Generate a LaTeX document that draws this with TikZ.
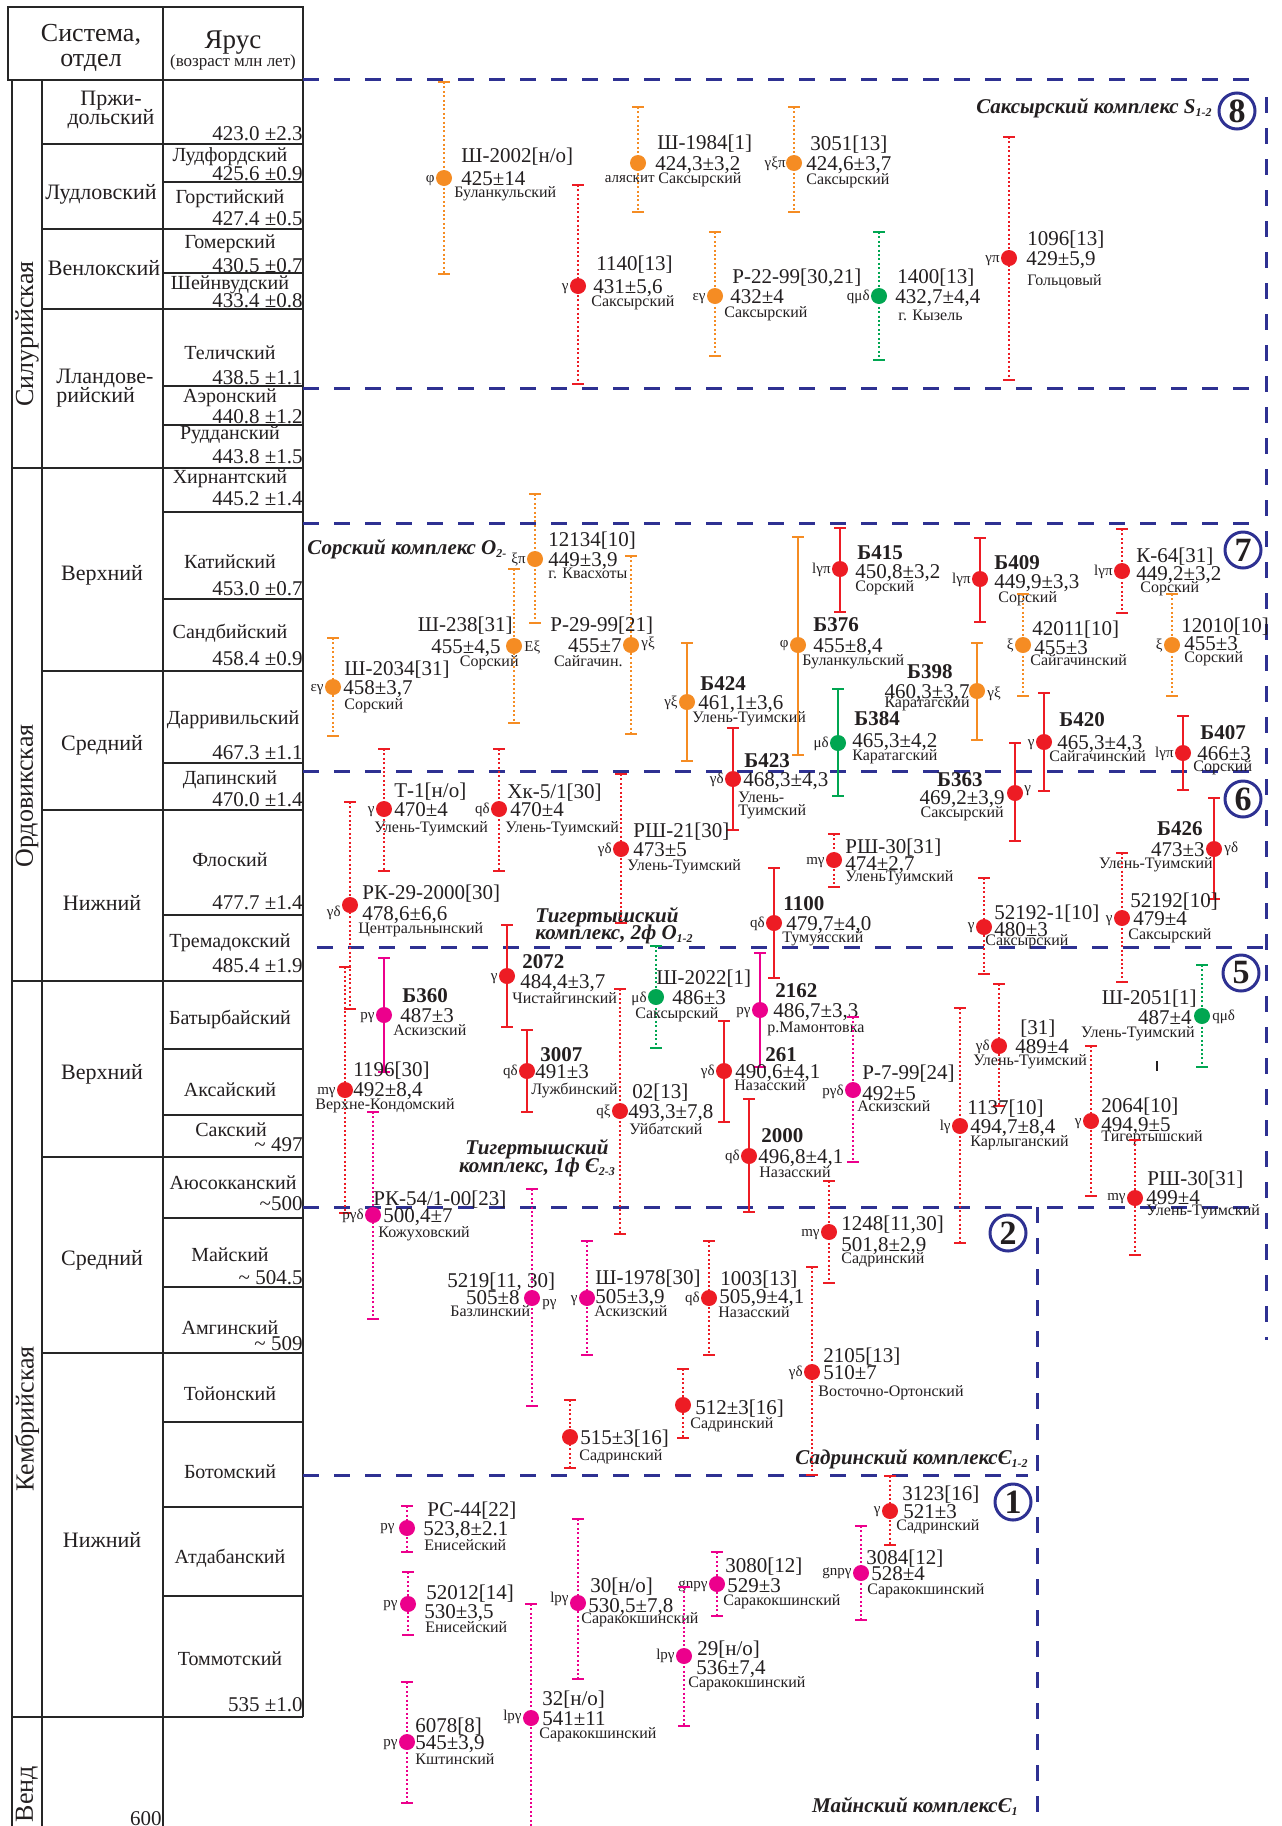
\documentclass[tikz,border=0pt]{standalone}
\usepackage{fontspec}
\setmainfont{Liberation Serif}
\definecolor{navy}{RGB}{46,49,146}
\definecolor{cO}{RGB}{245,140,35}
\definecolor{cR}{RGB}{237,28,36}
\definecolor{cG}{RGB}{0,166,81}
\definecolor{cM}{RGB}{236,0,140}
\definecolor{ink}{RGB}{35,31,32}
\newcommand\subs[1]{\raisebox{-0.35ex}{\fontsize{6}{6}\selectfont #1}}
\newcommand\DP[7]{%
  \coordinate (#1t) at (#4,#5);
  \coordinate (#1b) at (#4,#7);
  \draw[#2,#3] (#1t) -- (#1b);
  \draw[#2,capl] ([xshift=-3pt]#1t) -- ([xshift=3pt]#1t);
  \draw[#2,capl] ([xshift=-3pt]#1b) -- ([xshift=3pt]#1b);
  \node[dotn,fill=#2] (#1) at (#4,#6) {};
}
\tikzset{
  tbl/.style={line width=0.8pt, draw=black!85},
  dsh/.style={draw=navy, line width=1.5pt, dash pattern=on 8pt off 7.5pt},
  dt/.style={line width=0.6pt, dash pattern=on 1pt off 1.2pt},
  sl/.style={line width=1pt},
  capl/.style={line width=1pt},
  dotn/.style={circle, inner sep=0pt, minimum size=8pt, draw=none},
  idt/.style={inner sep=0pt, anchor=west, text=ink, text height=7.1pt, text depth=0pt, font=\fontsize{10.5}{11}\selectfont},
  bidt/.style={idt, font=\fontsize{10.5}{11}\selectfont\bfseries},
  loct/.style={inner sep=0pt, anchor=west, text=ink, text height=4.8pt, text depth=0pt, font=\fontsize{8}{9}\selectfont},
  rl/.style={inner sep=0pt, anchor=east, text=ink, text height=4.5pt, text depth=0pt, font=\fontsize{7.5}{8}\selectfont},
  hdr/.style={inner sep=0pt, text=ink, text height=8.5pt, text depth=0pt, font=\fontsize{13}{14}\selectfont},
  sys/.style={inner sep=0pt, text=ink, rotate=90, font=\fontsize{13}{13}\selectfont},
  ser/.style={inner sep=0pt, text=ink, text height=7.5pt, text depth=0pt, font=\fontsize{11}{12}\selectfont},
  stg/.style={inner sep=0pt, text=ink, text height=6.8pt, text depth=0pt, font=\fontsize{10}{11}\selectfont},
  age/.style={inner sep=0pt, anchor=east, text=ink, text height=7.1pt, text depth=0pt, font=\fontsize{10.5}{11}\selectfont},
  cplx/.style={inner sep=0pt, text=ink, text height=7pt, text depth=0pt, font=\fontsize{10.5}{11}\selectfont\bfseries\itshape},
  circn/.style={circle, draw=navy, line width=1.5pt, minimum size=18pt, inner sep=0pt, text=ink, font=\fontsize{17}{17}\selectfont\bfseries},
}
\begin{document}
\begin{tikzpicture}[x=0.5pt,y=-0.5pt]
\useasboundingbox[fill=white] (0,0) rectangle (1281,1826);
% ---------- table ----------
\draw[tbl] (8,7) rectangle (303,80);
\draw[tbl] (163,7) -- (163,80);
\draw[tbl] (12,80) -- (12,1826);
\draw[tbl] (42,80) -- (42,1826);
\draw[tbl] (163,80) -- (163,1826);
\draw[tbl] (303,80) -- (303,1717);
\foreach \yy in {468,981,1717} \draw[tbl] (12,\yy) -- (303,\yy);
\foreach \yy in {144,229,309,671,810,1157,1353} \draw[tbl] (42,\yy) -- (303,\yy);
\foreach \yy in {182,273,386,425,512,599,763,915,1049,1115,1218,1287,1422,1507,1596} \draw[tbl] (163,\yy) -- (303,\yy);
\node[hdr] (h1) at (91,33) {Система,};
\node[hdr] (h2) at (91,58) {отдел};
\node[hdr, font=\fontsize{13.5}{14}\selectfont] (h3) at (233,40) {Ярус};
\node[hdr, font=\fontsize{8.5}{9}\selectfont, text height=6pt] (h4) at (233,60) {(возраст млн лет)};
\node[sys] (s1) at (27,334) {Силурийская};
\node[sys] (s2) at (27,796) {Ордовикская};
\node[sys] (s3) at (27,1419) {Кембрийская};
\node[sys] (s4) at (27,1794) {Венд};
\node[ser] (r1a) at (111,98) {Пржи-};
\node[ser] (r1b) at (111,117) {дольский};
\node[ser] (r2) at (101,192) {Лудловский};
\node[ser] (r3) at (104,268) {Венлокский};
\node[ser, anchor=west] (r4a) at (56,376) {Лландове-};
\node[ser, anchor=west] (r4b) at (56,395) {рийский};
\node[ser] (r5) at (102,573) {Верхний};
\node[ser] (r6) at (102,743) {Средний};
\node[ser] (r7) at (102,903) {Нижний};
\node[ser] (r8) at (102,1072) {Верхний};
\node[ser] (r9) at (102,1258) {Средний};
\node[ser] (r10) at (102,1540) {Нижний};
\node[stg] (t1) at (230,155) {Лудфордский};
\node[stg] (t2) at (230,197) {Горстийский};
\node[stg] (t3) at (230,242) {Гомерский};
\node[stg] (t4) at (230,283) {Шейнвудский};
\node[stg] (t5) at (230,353) {Теличский};
\node[stg] (t6) at (230,396) {Аэронский};
\node[stg] (t7) at (230,433) {Рудданский};
\node[stg] (t8) at (230,477) {Хирнантский};
\node[stg] (t9) at (230,562) {Катийский};
\node[stg] (t10) at (230,632) {Сандбийский};
\node[stg] (t11) at (233,718) {Дарривильский};
\node[stg] (t12) at (230,778) {Дапинский};
\node[stg] (t13) at (230,860) {Флоский};
\node[stg] (t14) at (230,941) {Тремадокский};
\node[stg] (t15) at (230,1018) {Батырбайский};
\node[stg] (t16) at (230,1090) {Аксайский};
\node[stg] (t17) at (231,1130) {Сакский};
\node[stg] (t18) at (233,1183) {Аюсокканский};
\node[stg] (t19) at (230,1255) {Майский};
\node[stg] (t20) at (230,1328) {Амгинский};
\node[stg] (t21) at (230,1394) {Тойонский};
\node[stg] (t22) at (230,1472) {Ботомский};
\node[stg] (t23) at (230,1557) {Атдабанский};
\node[stg] (t24) at (230,1659) {Томмотский};
\node[age] (a1) at (303,133) {423.0 ±2.3};
\node[age] (a2) at (303,173) {425.6 ±0.9};
\node[age] (a3) at (303,218) {427.4 ±0.5};
\node[age] (a4) at (303,265) {430.5 ±0.7};
\node[age] (a5) at (303,300) {433.4 ±0.8};
\node[age] (a6) at (303,377) {438.5 ±1.1};
\node[age] (a7) at (303,416) {440.8 ±1.2};
\node[age] (a8) at (303,456) {443.8 ±1.5};
\node[age] (a9) at (303,498) {445.2 ±1.4};
\node[age] (a10) at (303,588) {453.0 ±0.7};
\node[age] (a11) at (303,658) {458.4 ±0.9};
\node[age] (a12) at (303,752) {467.3 ±1.1};
\node[age] (a13) at (303,799) {470.0 ±1.4};
\node[age] (a14) at (303,902) {477.7 ±1.4};
\node[age] (a15) at (303,965) {485.4 ±1.9};
\node[age] (a16) at (303,1144) {\textasciitilde\ 497};
\node[age] (a17) at (303,1203) {\textasciitilde500};
\node[age] (a18) at (303,1277) {\textasciitilde\ 504.5};
\node[age] (a19) at (303,1343) {\textasciitilde\ 509};
\node[age] (a20) at (303,1704) {535 ±1.0};
\node[age] (a21) at (162,1818) {600};
% ---------- dashed frames ----------
\draw[dsh] (303,79) -- (1258,79);
\draw[dsh] (1266,97) -- (1266,1340);
\draw[dsh] (303,388) -- (1253,388);
\draw[dsh] (303,523) -- (1255,523);
\draw[dsh] (303,771) -- (1253,771);
\draw[dsh] (317,947) -- (1264,947);
\draw[dsh] (303,1207) -- (1253,1207);
\draw[dsh] (1037,1207) -- (1037,1826);
\draw[dsh] (303,1475) -- (1028,1475);
\node[circn] (c8) at (1237,111) {8};
\node[circn] (c7) at (1243,550) {7};
\node[circn] (c6) at (1243,799) {6};
\node[circn] (c5) at (1241,973) {5};
\node[circn] (c2) at (1008,1233) {2};
\node[circn] (c1) at (1013,1502) {1};
\node[cplx, anchor=east] (k8) at (1212,106) {Саксырский комплекс S\subs{1-2}};
\node[cplx, anchor=west] (k7) at (307,547) {Сорский комплекс O\subs{2-}};
\node[cplx, anchor=west] (k6a) at (535,915) {Тигертышский};
\node[cplx, anchor=west] (k6b) at (535,932) {комплекс, 2ф O\subs{1-2}};
\node[cplx] (k5a) at (537,1147) {Тигертышский};
\node[cplx] (k5b) at (537,1165) {комплекс, 1ф Є\subs{2-3}};
\node[cplx, anchor=east] (k2) at (1028,1457) {Садринский комплексЄ\subs{1-2}};
\node[cplx, anchor=east] (k1) at (1018,1805) {Майнский комплексЄ\subs{1}};
\coordinate (tk1) at (1157,1061);
\coordinate (tk2) at (1157,1071);
\draw[ink, line width=0.6pt] (tk1) -- (tk2);
% ---------- data points: box 8 ----------
\DP{p1}{cO}{dt}{444}{82}{178}{274}
\node[rl] (p1r) at (435,178) {φ};
\node[idt] (p1i) at (461,155) {Ш-2002[н/о]};
\node[idt] (p1v) at (461,178) {425±14};
\node[loct] (p1l) at (454,193) {Буланкульский};
\DP{p2}{cR}{dt}{578}{185}{286}{384}
\node[rl] (p2r) at (569,286) {γ};
\node[idt] (p2i) at (596,263) {1140[13]};
\node[idt] (p2v) at (593,286) {431±5,6};
\node[loct] (p2l) at (591,302) {Саксырский};
\DP{p3}{cO}{dt}{638}{107}{163}{212}
\node[rl] (p3r) at (655,178) {аляскит};
\node[idt] (p3i) at (657,142) {Ш-1984[1]};
\node[idt] (p3v) at (655,163) {424,3±3,2};
\node[loct] (p3l) at (658,179) {Саксырский};
\DP{p4}{cO}{dt}{794}{107}{163}{212}
\node[rl] (p4r) at (786,163) {γξπ};
\node[idt] (p4i) at (810,143) {3051[13]};
\node[idt] (p4v) at (806,163) {424,6±3,7};
\node[loct] (p4l) at (806,180) {Саксырский};
\DP{p5}{cO}{dt}{715}{232}{296}{356}
\node[rl] (p5r) at (706,296) {εγ};
\node[idt] (p5i) at (732,276) {Р-22-99[30,21]};
\node[idt] (p5v) at (730,296) {432±4};
\node[loct] (p5l) at (724,313) {Саксырский};
\DP{p6}{cG}{dt}{879}{232}{296}{360}
\node[rl] (p6r) at (870,296) {qμδ};
\node[idt] (p6i) at (897,276) {1400[13]};
\node[idt] (p6v) at (895,296) {432,7±4,4};
\node[loct] (p6l) at (898,316) {г. Кызель};
\DP{p7}{cR}{dt}{1009}{137}{258}{380}
\node[rl] (p7r) at (1000,258) {γπ};
\node[idt] (p7i) at (1027,238) {1096[13]};
\node[idt] (p7v) at (1026,258) {429±5,9};
\node[loct] (p7l) at (1027,281) {Гольцовый};
% ---------- box 7 ----------
\DP{p8}{cO}{dt}{333}{638}{687}{736}
\node[rl] (p8r) at (324,687) {εγ};
\node[idt] (p8i) at (344,668) {Ш-2034[31]};
\node[idt] (p8v) at (343,687) {458±3,7};
\node[loct] (p8l) at (344,705) {Сорский};
\DP{p11}{cO}{dt}{535}{494}{559}{623}
\node[rl] (p11r) at (526,559) {ξπ};
\node[idt] (p11i) at (548,539) {12134[10]};
\node[idt] (p11v) at (548,559) {449±3,9};
\node[loct] (p11l) at (548,574) {г. Квасхоты};
\DP{p12}{cO}{dt}{514}{569}{646}{723}
\node[rl, anchor=west] (p12r) at (524,647) {Eξ};
\node[idt, anchor=east] (p12i) at (513,624) {Ш-238[31]};
\node[idt, anchor=east] (p12v) at (501,646) {455±4,5};
\node[loct, anchor=east] (p12l) at (519,662) {Сорский};
\DP{p13}{cO}{dt}{631}{556}{645}{734}
\node[rl, anchor=west] (p13r) at (641,643) {γξ};
\node[idt] (p13i) at (550,624) {Р-29-99[21]};
\node[idt, anchor=east] (p13v) at (622,645) {455±7};
\node[loct, anchor=east] (p13l) at (623,662) {Сайгачин.};
\DP{p14}{cO}{sl}{687}{643}{702}{761}
\node[rl] (p14r) at (678,702) {γξ};
\node[bidt] (p14i) at (700,683) {Б424};
\node[idt] (p14v) at (698,702) {461,1±3,6};
\node[loct] (p14l) at (692,718) {Улень-Туимский};
\DP{p15}{cO}{sl}{798}{537}{645}{755}
\node[rl] (p15r) at (789,643) {φ};
\node[bidt] (p15i) at (813,624) {Б376};
\node[idt] (p15v) at (813,645) {455±8,4};
\node[loct] (p15l) at (802,661) {Буланкульский};
\DP{p16}{cR}{sl}{840}{528}{569}{612}
\node[rl] (p16r) at (831,569) {lγπ};
\node[bidt] (p16i) at (857,552) {Б415};
\node[idt] (p16v) at (855,571) {450,8±3,2};
\node[loct] (p16l) at (855,587) {Сорский};
\DP{p17}{cG}{sl}{838}{689}{743}{796}
\node[rl] (p17r) at (829,743) {μδ};
\node[bidt] (p17i) at (854,718) {Б384};
\node[idt] (p17v) at (852,740) {465,3±4,2};
\node[loct] (p17l) at (852,756) {Каратагский};
\DP{p18}{cR}{sl}{733}{728}{779}{830}
\node[rl] (p18r) at (724,779) {γδ};
\node[bidt] (p18i) at (744,760) {Б423};
\node[idt] (p18v) at (743,779) {468,3±4,3};
\node[loct] (p18l) at (738,798) {Улень-};
\node[loct] (p18m) at (738,811) {Туимский};
\DP{p23}{cR}{sl}{980}{538}{579}{622}
\node[rl] (p23r) at (971,579) {lγπ};
\node[bidt] (p23i) at (994,562) {Б409};
\node[idt] (p23v) at (994,581) {449,9±3,3};
\node[loct] (p23l) at (998,598) {Сорский};
\DP{p24}{cR}{dt}{1122}{529}{571}{613}
\node[rl] (p24r) at (1113,571) {lγπ};
\node[idt] (p24i) at (1136,555) {К-64[31]};
\node[idt] (p24v) at (1136,573) {449,2±3,2};
\node[loct] (p24l) at (1140,588) {Сорский};
\DP{p25}{cO}{dt}{1023}{594}{645}{696}
\node[rl] (p25r) at (1014,645) {ξ};
\node[idt] (p25i) at (1032,628) {42011[10]};
\node[idt] (p25v) at (1034,647) {455±3};
\node[loct] (p25l) at (1030,661) {Сайгачинский};
\DP{p26}{cO}{dt}{1172}{594}{645}{696}
\node[rl] (p26r) at (1163,645) {ξ};
\node[idt] (p26i) at (1181,625) {12010[10]};
\node[idt] (p26v) at (1184,643) {455±3};
\node[loct] (p26l) at (1184,658) {Сорский};
\DP{p27}{cO}{sl}{977}{643}{691}{740}
\node[rl, anchor=west] (p27r) at (987,693) {γξ};
\node[bidt, anchor=east] (p27i) at (953,671) {Б398};
\node[idt, anchor=east] (p27v) at (970,691) {460,3±3,7};
\node[loct, anchor=east] (p27l) at (970,703) {Каратагский};
\DP{p28}{cR}{sl}{1044}{693}{742}{791}
\node[rl] (p28r) at (1035,742) {γ};
\node[bidt] (p28i) at (1059,719) {Б420};
\node[idt] (p28v) at (1057,742) {465,3±4,3};
\node[loct] (p28l) at (1049,757) {Сайгачинский};
\DP{p29}{cR}{sl}{1183}{716}{753}{790}
\node[rl] (p29r) at (1174,753) {lγπ};
\node[bidt] (p29i) at (1200,732) {Б407};
\node[idt] (p29v) at (1197,753) {466±3};
\node[loct] (p29l) at (1193,767) {Сорский};
% ---------- box 6 ----------
\DP{p9}{cR}{dt}{384}{749}{809}{871}
\node[rl] (p9r) at (375,809) {γ};
\node[idt] (p9i) at (394,790) {Т-1[н/о]};
\node[idt] (p9v) at (394,809) {470±4};
\node[loct] (p9l) at (374,828) {Улень-Туимский};
\DP{p10}{cR}{dt}{350}{802}{905}{1009}
\node[rl] (p10r) at (341,912) {γδ};
\node[idt] (p10i) at (362,892) {РК-29-2000[30]};
\node[idt] (p10v) at (362,913) {478,6±6,6};
\node[loct] (p10l) at (358,929) {Центральнынский};
\DP{p19}{cR}{dt}{499}{749}{809}{871}
\node[rl] (p19r) at (490,809) {qδ};
\node[idt] (p19i) at (507,791) {Хк-5/1[30]};
\node[idt] (p19v) at (510,809) {470±4};
\node[loct] (p19l) at (505,828) {Улень-Туимский};
\DP{p20}{cR}{dt}{621}{774}{849}{923}
\node[rl] (p20r) at (612,849) {γδ};
\node[idt] (p20i) at (633,830) {РШ-21[30]};
\node[idt] (p20v) at (633,849) {473±5};
\node[loct] (p20l) at (627,866) {Улень-Туимский};
\DP{p21}{cR}{dt}{834}{834}{860}{887}
\node[rl] (p21r) at (825,860) {mγ};
\node[idt] (p21i) at (845,846) {РШ-30[31]};
\node[idt] (p21v) at (845,863) {474±2,7};
\node[loct] (p21l) at (845,877) {УленьТуимский};
\DP{p22}{cR}{sl}{774}{868}{923}{978}
\node[rl] (p22r) at (765,923) {qδ};
\node[bidt] (p22i) at (783,903) {1100};
\node[idt] (p22v) at (786,923) {479,7±4,0};
\node[loct] (p22l) at (782,938) {Тумуясский};
\DP{p30}{cR}{sl}{1015}{743}{793}{841}
\node[rl, anchor=west] (p30r) at (1024,788) {γ};
\node[bidt, anchor=east] (p30i) at (983,779) {Б363};
\node[idt, anchor=east] (p30v) at (1005,797) {469,2±3,9};
\node[loct, anchor=east] (p30l) at (1004,813) {Саксырский};
\DP{p31}{cR}{sl}{1214}{798}{849}{899}
\node[rl, anchor=west] (p31r) at (1224,848) {γδ};
\node[bidt, anchor=east] (p31i) at (1203,828) {Б426};
\node[idt, anchor=east] (p31v) at (1205,849) {473±3};
\node[loct, anchor=east] (p31l) at (1213,864) {Улень-Туимский};
\DP{p32}{cR}{dt}{984}{878}{927}{974}
\node[rl] (p32r) at (975,925) {γ};
\node[idt] (p32i) at (994,912) {52192-1[10]};
\node[idt] (p32v) at (994,929) {480±3};
\node[loct] (p32l) at (985,941) {Саксырский};
\DP{p33}{cR}{dt}{1122}{853}{918}{982}
\node[rl] (p33r) at (1113,918) {γ};
\node[idt] (p33i) at (1130,900) {52192[10]};
\node[idt] (p33v) at (1133,918) {479±4};
\node[loct] (p33l) at (1128,935) {Саксырский};
% ---------- box 5 ----------
\DP{p34}{cM}{sl}{384}{958}{1015}{1072}
\node[rl] (p34r) at (375,1015) {pγ};
\node[bidt] (p34i) at (402,995) {Б360};
\node[idt] (p34v) at (400,1015) {487±3};
\node[loct] (p34l) at (393,1031) {Аскизский};
\DP{p35}{cR}{dt}{345}{967}{1090}{1213}
\node[rl] (p35r) at (336,1090) {mγ};
\node[idt] (p35i) at (353,1069) {1196[30]};
\node[idt] (p35v) at (353,1089) {492±8,4};
\node[loct] (p35l) at (315,1105) {Верхне-Кондомский};
\DP{p36}{cM}{dt}{373}{1112}{1215}{1319}
\node[rl] (p36r) at (364,1215) {pγδ};
\node[idt] (p36i) at (373,1198) {РК-54/1-00[23]};
\node[idt] (p36v) at (383,1215) {500,4±7};
\node[loct] (p36l) at (378,1233) {Кожуховский};
\DP{p37}{cR}{sl}{507}{925}{976}{1027}
\node[rl] (p37r) at (498,976) {γ};
\node[bidt] (p37i) at (522,961) {2072};
\node[idt] (p37v) at (520,981) {484,4±3,7};
\node[loct] (p37l) at (512,999) {Чистайгинский};
\DP{p38}{cR}{sl}{527}{1030}{1071}{1112}
\node[rl] (p38r) at (518,1071) {qδ};
\node[bidt] (p38i) at (540,1054) {3007};
\node[idt] (p38v) at (535,1071) {491±3};
\node[loct] (p38l) at (531,1090) {Лужбинский};
\DP{p39}{cG}{dt}{656}{946}{997}{1048}
\node[rl] (p39r) at (647,998) {μδ};
\node[idt] (p39i) at (656,977) {Ш-2022[1]};
\node[idt] (p39v) at (672,997) {486±3};
\node[loct] (p39l) at (635,1014) {Саксырский};
\DP{p40}{cR}{dt}{620}{989}{1111}{1234}
\node[rl] (p40r) at (611,1111) {qξ};
\node[idt] (p40i) at (632,1091) {02[13]};
\node[idt] (p40v) at (628,1111) {493,3±7,8};
\node[loct] (p40l) at (629,1130) {Уйбатский};
\DP{p41}{cM}{sl}{760}{953}{1010}{1067}
\node[rl] (p41r) at (751,1010) {pγ};
\node[bidt] (p41i) at (775,990) {2162};
\node[idt] (p41v) at (773,1010) {486,7±3,3};
\node[loct] (p41l) at (767,1028) {р.Мамонтовка};
\DP{p42}{cR}{sl}{724}{1021}{1071}{1122}
\node[rl] (p42r) at (715,1071) {γδ};
\node[bidt] (p42i) at (765,1054) {261};
\node[idt] (p42v) at (735,1071) {490,6±4,1};
\node[loct] (p42l) at (734,1086) {Назасский};
\DP{p43}{cR}{sl}{749}{1099}{1156}{1212}
\node[rl] (p43r) at (740,1156) {qδ};
\node[bidt] (p43i) at (761,1135) {2000};
\node[idt] (p43v) at (758,1156) {496,8±4,1};
\node[loct] (p43l) at (759,1173) {Назасский};
\DP{p44}{cM}{dt}{853}{1017}{1090}{1162}
\node[rl] (p44r) at (844,1091) {pγδ};
\node[idt] (p44i) at (862,1072) {Р-7-99[24]};
\node[idt] (p44v) at (862,1093) {492±5};
\node[loct] (p44l) at (857,1107) {Аскизский};
\DP{p50}{cR}{dt}{999}{984}{1046}{1106}
\node[rl] (p50r) at (990,1046) {γδ};
\node[idt] (p50i) at (1020,1027) {[31]};
\node[idt] (p50v) at (1015,1046) {489±4};
\node[loct] (p50l) at (973,1061) {Улень-Туимский};
\DP{p51}{cR}{dt}{960}{1008}{1126}{1243}
\node[rl] (p51r) at (951,1126) {lγ};
\node[idt] (p51i) at (967,1107) {1137[10]};
\node[idt] (p51v) at (970,1126) {494,7±8,4};
\node[loct] (p51l) at (970,1142) {Карлыганский};
\DP{p52}{cR}{dt}{1091}{1046}{1121}{1196}
\node[rl] (p52r) at (1082,1121) {γ};
\node[idt] (p52i) at (1101,1105) {2064[10]};
\node[idt] (p52v) at (1101,1124) {494,9±5};
\node[loct] (p52l) at (1101,1137) {Тигертышский};
\DP{p53}{cR}{dt}{1135}{1140}{1198}{1255}
\node[rl] (p53r) at (1126,1196) {mγ};
\node[idt] (p53i) at (1147,1178) {РШ-30[31]};
\node[idt] (p53v) at (1146,1197) {499±4};
\node[loct] (p53l) at (1146,1211) {Улень-Туимский};
\DP{p54}{cG}{dt}{1202}{965}{1016}{1067}
\node[rl, anchor=west] (p54r) at (1212,1016) {qμδ};
\node[idt, anchor=east] (p54i) at (1197,997) {Ш-2051[1]};
\node[idt, anchor=east] (p54v) at (1192,1017) {487±4};
\node[loct, anchor=east] (p54l) at (1195,1033) {Улень-Туимский};
% ---------- box 2 ----------
\DP{p45}{cR}{dt}{829}{1181}{1232}{1283}
\node[rl] (p45r) at (820,1232) {mγ};
\node[idt] (p45i) at (841,1223) {1248[11,30]};
\node[idt] (p45v) at (841,1244) {501,8±2,9};
\node[loct] (p45l) at (841,1259) {Садринский};
\DP{p46}{cM}{dt}{532}{1189}{1298}{1406}
\node[rl, anchor=west] (p46r) at (542,1302) {pγ};
\node[idt] (p46i) at (447,1280) {5219[11, 30]};
\node[idt, anchor=east] (p46v) at (520,1297) {505±8};
\node[loct] (p46l) at (450,1312) {Базлинский};
\DP{p47}{cM}{dt}{587}{1241}{1298}{1355}
\node[rl] (p47r) at (578,1298) {γ};
\node[idt] (p47i) at (595,1277) {Ш-1978[30]};
\node[idt] (p47v) at (595,1296) {505±3,9};
\node[loct] (p47l) at (594,1312) {Аскизский};
\DP{p48}{cR}{dt}{709}{1241}{1298}{1355}
\node[rl] (p48r) at (700,1298) {qδ};
\node[idt] (p48i) at (720,1278) {1003[13]};
\node[idt] (p48v) at (719,1296) {505,9±4,1};
\node[loct] (p48l) at (718,1313) {Назасский};
\DP{p49}{cR}{dt}{812}{1267}{1372}{1475}
\node[rl] (p49r) at (803,1372) {γδ};
\node[idt] (p49i) at (823,1355) {2105[13]};
\node[idt] (p49v) at (823,1372) {510±7};
\node[loct] (p49l) at (818,1392) {Восточно-Ортонский};
\DP{p55}{cR}{dt}{570}{1400}{1437}{1468}
\node[idt] (p55v) at (580,1437) {515±3[16]};
\node[loct] (p55l) at (579,1456) {Садринский};
\DP{p56}{cR}{dt}{683}{1369}{1405}{1438}
\node[idt] (p56v) at (695,1407) {512±3[16]};
\node[loct] (p56l) at (690,1424) {Садринский};
% ---------- box 1 ----------
\DP{p57}{cM}{dt}{407}{1506}{1528}{1552}
\node[rl] (p57r) at (395,1526) {pγ};
\node[idt] (p57i) at (427,1509) {РС-44[22]};
\node[idt] (p57v) at (423,1528) {523,8±2.1};
\node[loct] (p57l) at (424,1546) {Енисейский};
\DP{p58}{cM}{dt}{408}{1572}{1604}{1635}
\node[rl] (p58r) at (398,1603) {pγ};
\node[idt] (p58i) at (426,1592) {52012[14]};
\node[idt] (p58v) at (424,1611) {530±3,5};
\node[loct] (p58l) at (425,1628) {Енисейский};
\DP{p59}{cM}{dt}{407}{1682}{1742}{1803}
\node[rl] (p59r) at (398,1742) {pγ};
\node[idt] (p59i) at (415,1725) {6078[8]};
\node[idt] (p59v) at (415,1742) {545±3,9};
\node[loct] (p59l) at (415,1760) {Кштинский};
\DP{p60}{cM}{dt}{578}{1519}{1603}{1679}
\node[rl] (p60r) at (569,1598) {lpγ};
\node[idt] (p60i) at (590,1585) {30[н/о]};
\node[idt] (p60v) at (588,1605) {530,5±7,8};
\node[loct] (p60l) at (581,1619) {Саракокшинский};
\DP{p61}{cM}{dt}{717}{1552}{1584}{1616}
\node[rl] (p61r) at (708,1584) {gnpγ};
\node[idt] (p61i) at (725,1565) {3080[12]};
\node[idt] (p61v) at (727,1585) {529±3};
\node[loct] (p61l) at (723,1601) {Саракокшинский};
\DP{p62}{cM}{dt}{684}{1587}{1656}{1726}
\node[rl] (p62r) at (675,1655) {lpγ};
\node[idt] (p62i) at (697,1648) {29[н/о]};
\node[idt] (p62v) at (696,1667) {536±7,4};
\node[loct] (p62l) at (688,1683) {Саракокшинский};
\DP{p63}{cM}{dt}{531}{1604}{1718}{1840}
\node[rl] (p63r) at (522,1716) {lpγ};
\node[idt] (p63i) at (542,1698) {32[н/о]};
\node[idt] (p63v) at (542,1718) {541±11};
\node[loct] (p63l) at (539,1734) {Саракокшинский};
\DP{p64}{cR}{dt}{890}{1476}{1511}{1545}
\node[rl] (p64r) at (881,1509) {γ};
\node[idt] (p64i) at (902,1493) {3123[16]};
\node[idt] (p64v) at (903,1511) {521±3};
\node[loct] (p64l) at (896,1526) {Садринский};
\DP{p65}{cM}{dt}{861}{1526}{1573}{1620}
\node[rl] (p65r) at (852,1571) {gnpγ};
\node[idt] (p65i) at (866,1557) {3084[12]};
\node[idt] (p65v) at (871,1573) {528±4};
\node[loct] (p65l) at (867,1590) {Саракокшинский};
\end{tikzpicture}
\end{document}
